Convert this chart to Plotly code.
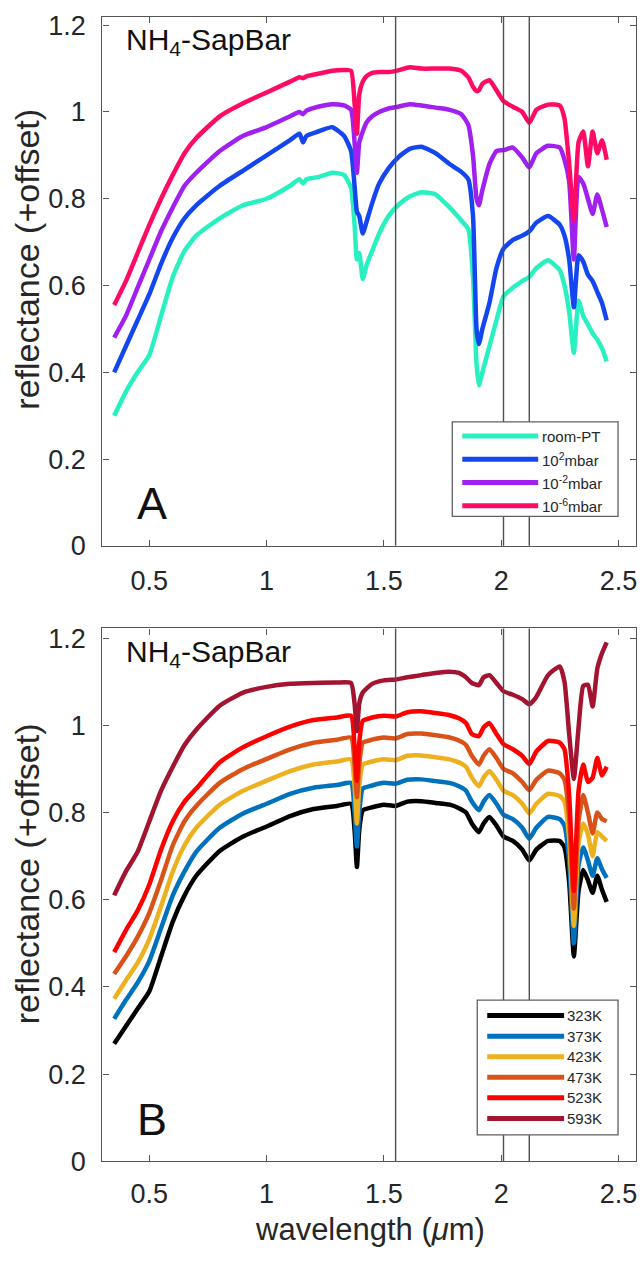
import plotly.graph_objects as go

W, H = 642, 1262

# ---------------- data: panel A (pressure series) ----------------
wl_a = [0.35, 0.40, 0.45, 0.50, 0.55, 0.60, 0.65, 0.70,
        0.80, 0.90, 1.00, 1.10,
        1.14, 1.155, 1.17,
        1.22, 1.28, 1.33, 1.36,
        1.375, 1.385, 1.395, 1.41, 1.425,
        1.45, 1.48, 1.52, 1.56, 1.61, 1.66,
        1.72, 1.78, 1.83, 1.86, 1.88,
        1.895, 1.905, 1.92, 1.95, 1.98,
        2.01, 2.05, 2.09, 2.12, 2.15,
        2.20, 2.25, 2.27, 2.29, 2.31,
        2.33, 2.35, 2.37, 2.39, 2.41, 2.43, 2.45]

room_pt = [0.30, 0.355, 0.40, 0.44, 0.53, 0.62, 0.68, 0.715,
           0.755, 0.785, 0.80, 0.83,
           0.845, 0.835, 0.845,
           0.85, 0.86, 0.855, 0.825,
           0.74, 0.66, 0.675, 0.615, 0.645,
           0.68, 0.72, 0.76, 0.785, 0.805, 0.815,
           0.81, 0.78, 0.75, 0.73, 0.62,
           0.42, 0.37, 0.40, 0.46, 0.52,
           0.575, 0.595, 0.61, 0.62, 0.64,
           0.658, 0.635, 0.60, 0.54, 0.445,
           0.565, 0.53, 0.51, 0.49, 0.475, 0.455, 0.425]

mbar_1e2 = [0.40, 0.46, 0.52, 0.58, 0.65, 0.71, 0.755, 0.785,
            0.83, 0.865, 0.90, 0.935,
            0.95, 0.93, 0.945,
            0.955, 0.965, 0.945, 0.91,
            0.83, 0.77, 0.76, 0.72, 0.745,
            0.79, 0.835, 0.87, 0.895, 0.915, 0.92,
            0.905, 0.88, 0.862, 0.845, 0.76,
            0.50, 0.465, 0.50, 0.56, 0.64,
            0.685, 0.705, 0.715, 0.725, 0.745,
            0.76, 0.74, 0.715, 0.66, 0.55,
            0.67, 0.655, 0.625, 0.61, 0.585, 0.56, 0.52]

mbar_1em2 = [0.48, 0.53, 0.595, 0.66, 0.725, 0.78, 0.83, 0.86,
             0.91, 0.945, 0.965, 0.99,
             1.0, 0.995, 1.003,
             1.012, 1.018, 1.015, 1.005,
             0.93, 0.86, 0.93, 0.955, 0.975,
             0.99, 1.0, 1.008, 1.012, 1.018, 1.015,
             1.01, 1.005, 0.995, 0.97, 0.90,
             0.80, 0.785, 0.82, 0.88, 0.91,
             0.912, 0.918, 0.895, 0.872, 0.905,
             0.922, 0.918, 0.89, 0.84, 0.66,
             0.85, 0.835, 0.80, 0.765, 0.81, 0.775, 0.735]

mbar_1em6 = [0.555, 0.61, 0.675, 0.74, 0.80, 0.855, 0.905, 0.94,
             0.99, 1.02, 1.045, 1.07,
             1.08, 1.078, 1.082,
             1.088, 1.095, 1.097, 1.095,
             1.02, 0.95, 1.04, 1.07, 1.082,
             1.09, 1.092, 1.092, 1.096, 1.103, 1.10,
             1.10, 1.10, 1.095, 1.08, 1.058,
             1.048, 1.05, 1.065, 1.073, 1.05,
             1.025, 1.012, 1.0, 0.975, 1.005,
             1.017, 1.015, 0.985, 0.88, 0.75,
             0.93, 0.955, 0.875, 0.955, 0.905, 0.935, 0.89]

names_a = ["room-PT", "10<sup>2</sup>mbar", "10<sup>-2</sup>mbar", "10<sup>-6</sup>mbar"]
colors_a = ["#28F0C0", "#1446F0", "#A020F0", "#FF0A64"]

# ---------------- data: panel B (temperature series) ----------------
wl_b = [0.35, 0.40, 0.45, 0.50, 0.55, 0.60, 0.65, 0.70,
        0.80, 0.90, 1.00, 1.10, 1.20, 1.30,
        1.36, 1.375, 1.385, 1.395, 1.41,
        1.45, 1.50, 1.55, 1.60, 1.66, 1.72, 1.78,
        1.82, 1.85, 1.875, 1.905, 1.925, 1.95, 1.98,
        2.01, 2.05, 2.09, 2.12, 2.15, 2.20, 2.25,
        2.27, 2.29, 2.31, 2.33, 2.35, 2.37, 2.39, 2.41, 2.43, 2.45]

k323 = [0.27, 0.31, 0.35, 0.39, 0.47, 0.55, 0.61, 0.655,
        0.712, 0.745, 0.768, 0.792, 0.808, 0.815,
        0.82, 0.76, 0.675, 0.76, 0.805,
        0.812, 0.818, 0.815, 0.825, 0.826, 0.822, 0.818,
        0.81, 0.80, 0.775, 0.755, 0.775, 0.79, 0.77,
        0.745, 0.735, 0.715, 0.69, 0.715, 0.735, 0.735,
        0.72, 0.64, 0.47, 0.62, 0.668, 0.645, 0.616, 0.655, 0.623, 0.595]

k373 = [0.327, 0.37, 0.41, 0.46, 0.535, 0.61, 0.665, 0.71,
        0.765, 0.798, 0.82, 0.843, 0.857, 0.863,
        0.868, 0.80, 0.722, 0.80, 0.855,
        0.862, 0.868, 0.866, 0.875, 0.876, 0.872, 0.868,
        0.86, 0.85, 0.825, 0.805, 0.825, 0.84, 0.82,
        0.795, 0.785, 0.765, 0.74, 0.765, 0.79, 0.785,
        0.77, 0.69, 0.50, 0.68, 0.72, 0.69, 0.655, 0.695, 0.67, 0.65]

k423 = [0.373, 0.415, 0.455, 0.51, 0.585, 0.665, 0.725, 0.765,
        0.818, 0.85, 0.873, 0.895, 0.91, 0.917,
        0.922, 0.86, 0.775, 0.86, 0.91,
        0.917, 0.922, 0.92, 0.93, 0.931, 0.927, 0.922,
        0.915, 0.905, 0.88, 0.86, 0.88, 0.895, 0.875,
        0.85, 0.84, 0.82, 0.798, 0.82, 0.843, 0.838,
        0.825, 0.74, 0.54, 0.73, 0.775, 0.75, 0.70, 0.755, 0.745, 0.735]

k473 = [0.43, 0.47, 0.515, 0.57, 0.645, 0.725, 0.78, 0.815,
        0.868, 0.9, 0.923, 0.945, 0.96, 0.967,
        0.972, 0.91, 0.835, 0.91, 0.96,
        0.967, 0.972, 0.97, 0.98, 0.981, 0.977, 0.972,
        0.965, 0.955, 0.93, 0.91, 0.93, 0.945, 0.925,
        0.9, 0.89, 0.87, 0.851, 0.875, 0.896, 0.89,
        0.875, 0.79, 0.58, 0.78, 0.84, 0.80, 0.752, 0.80, 0.785, 0.78]

k523 = [0.48, 0.53, 0.575, 0.635, 0.715, 0.78, 0.825, 0.855,
        0.915, 0.95, 0.975, 0.997, 1.012, 1.018,
        1.022, 0.95, 0.873, 0.96, 1.01,
        1.018, 1.022, 1.02, 1.03, 1.032, 1.028, 1.023,
        1.016, 1.005, 0.98, 0.975, 0.995, 1.005, 0.98,
        0.957, 0.945, 0.93, 0.911, 0.94, 0.964, 0.96,
        0.945, 0.84, 0.62, 0.85, 0.91, 0.87, 0.88, 0.925, 0.885, 0.905]

k593 = [0.61, 0.665, 0.71, 0.78, 0.85, 0.905, 0.955, 0.99,
        1.045, 1.075, 1.088, 1.095, 1.097, 1.098,
        1.097, 1.05, 0.987, 1.05, 1.075,
        1.095, 1.103, 1.105, 1.11, 1.115, 1.12, 1.123,
        1.12, 1.11, 1.097, 1.092, 1.11, 1.115, 1.097,
        1.078, 1.07, 1.06, 1.048, 1.065, 1.115, 1.135,
        1.10, 0.98, 0.877, 0.995, 1.09, 1.093, 1.043, 1.13, 1.165, 1.19]

names_b = ["323K", "373K", "423K", "473K", "523K", "593K"]
colors_b = ["#000000", "#0072BD", "#EDB120", "#D95319", "#FF0000", "#A2142F"]

# vertical reference wavelengths
marker_lines = [1.55, 2.01, 2.12]

x_ticks = [0.5, 1, 1.5, 2, 2.5]
x_tick_labels = ["0.5", "1", "1.5", "2", "2.5"]
y_ticks = [0, 0.2, 0.4, 0.6, 0.8, 1.0, 1.2]
y_tick_labels = ["0", "0.2", "0.4", "0.6", "0.8", "1", "1.2"]

# ---------------- layout helpers ----------------
FONT = "Liberation Sans, Arial, Helvetica, sans-serif"
TXT = "#262626"
AX = "#555555"


def fx(p):
    return p / W


def fy(p):
    return 1 - p / H


x_dom = [fx(102.6), fx(637)]
ya_dom = [fy(549), fy(10.7)]
yb_dom = [fy(1175), fy(633)]

fig = go.Figure()

for ser, nm, col in zip([room_pt, mbar_1e2, mbar_1em2, mbar_1em6], names_a, colors_a):
    fig.add_trace(go.Scatter(x=wl_a, y=ser, mode="lines", name=nm,
                             line=dict(color=col, width=4.5, shape="spline", smoothing=0.5),
                             xaxis="x", yaxis="y", showlegend=False))

for ser, nm, col in zip([k323, k373, k423, k473, k523, k593], names_b, colors_b):
    fig.add_trace(go.Scatter(x=wl_b, y=ser, mode="lines", name=nm,
                             line=dict(color=col, width=4.5, shape="spline", smoothing=0.5),
                             xaxis="x2", yaxis="y2", showlegend=False))

axis_common = dict(showline=True, linecolor=AX, linewidth=1.3, mirror="ticks",
                   ticks="inside", ticklen=6, tickcolor=AX, tickwidth=1.2,
                   showgrid=False, zeroline=False, ticklabeloverflow="allow",
                   tickfont=dict(family=FONT, size=27, color=TXT))

fig.update_layout(
    width=W, height=H,
    margin=dict(l=0, r=0, t=0, b=0),
    paper_bgcolor="white", plot_bgcolor="white",
    showlegend=False,
    xaxis=dict(domain=x_dom, range=[0.3, 2.575], anchor="y", ticklabelstandoff=11,
               tickvals=x_ticks, ticktext=x_tick_labels, **axis_common),
    yaxis=dict(domain=ya_dom, range=[0, 1.22], anchor="x", ticklabelstandoff=10,
               tickvals=y_ticks, ticktext=y_tick_labels, **axis_common),
    xaxis2=dict(domain=x_dom, range=[0.3, 2.575], anchor="y2", ticklabelstandoff=8,
                tickvals=x_ticks, ticktext=x_tick_labels, **axis_common),
    yaxis2=dict(domain=yb_dom, range=[0, 1.222], anchor="x2", ticklabelstandoff=10,
                tickvals=y_ticks, ticktext=y_tick_labels, **axis_common),
)

shapes = []
annotations = []

# vertical marker lines
for xr, yr in [("x", "y domain"), ("x2", "y2 domain")]:
    for xv in marker_lines:
        shapes.append(dict(type="line", xref=xr, yref=yr, x0=xv, x1=xv, y0=0, y1=1,
                           line=dict(color="#505050", width=1.4), layer="above"))


# manual legends (box + line samples + labels), pixel-placed
def legend(box, rows, x_line, x_text, names, colors):
    shapes.append(dict(type="rect", xref="paper", yref="paper",
                       x0=fx(box[0]), x1=fx(box[2]), y0=fy(box[3]), y1=fy(box[1]),
                       line=dict(color="#606060", width=1.3), fillcolor="white", layer="above"))
    for r, nm, col in zip(rows, names, colors):
        shapes.append(dict(type="line", xref="paper", yref="paper",
                           x0=fx(x_line[0]), x1=fx(x_line[1]), y0=fy(r), y1=fy(r),
                           line=dict(color=col, width=5), layer="above"))
        annotations.append(dict(xref="paper", yref="paper", x=fx(x_text), y=fy(r),
                                text=nm, showarrow=False, xanchor="left", yanchor="middle",
                                font=dict(family=FONT, size=15, color=TXT)))


legend((453, 423, 619, 519), [437.3, 461, 484.5, 508.3], (463, 539), 541, names_a, colors_a)
legend((478, 1011, 619, 1148), [1026.7, 1047.6, 1068.5, 1089.3, 1110.3, 1131.2], (488, 565), 566,
       names_b, colors_b)

# panel texts
for yc in [36, 658]:
    annotations.append(dict(xref="paper", yref="paper", x=fx(124), y=fy(yc),
                            text="NH<sub>4</sub>-SapBar", showarrow=False, xanchor="left",
                            yanchor="middle", font=dict(family=FONT, size=30, color="#111111")))
for letter, yc in [("A", 506), ("B", 1132)]:
    annotations.append(dict(xref="paper", yref="paper", x=fx(152), y=fy(yc),
                            text=letter, showarrow=False, xanchor="center", yanchor="middle",
                            font=dict(family=FONT, size=45, color="#111111")))

# axis titles
for yc in [257, 882]:
    annotations.append(dict(xref="paper", yref="paper", x=fx(27), y=fy(yc),
                            text="reflectance (+offset)", showarrow=False, textangle=-90,
                            xanchor="center", yanchor="middle",
                            font=dict(family=FONT, size=34, color=TXT)))
annotations.append(dict(xref="paper", yref="paper", x=fx(371), y=fy(1244),
                        text="wavelength (<i>μ</i>m)", showarrow=False,
                        xanchor="center", yanchor="middle",
                        font=dict(family=FONT, size=31, color=TXT)))

fig.update_layout(shapes=shapes, annotations=annotations)

# remove the browser's default 8px body margin so the figure sits at (0, 0)
fig.write_html("out.html", config={"displayModeBar": False},
               post_script="document.body.style.margin='0px';document.body.style.overflow='hidden';")
